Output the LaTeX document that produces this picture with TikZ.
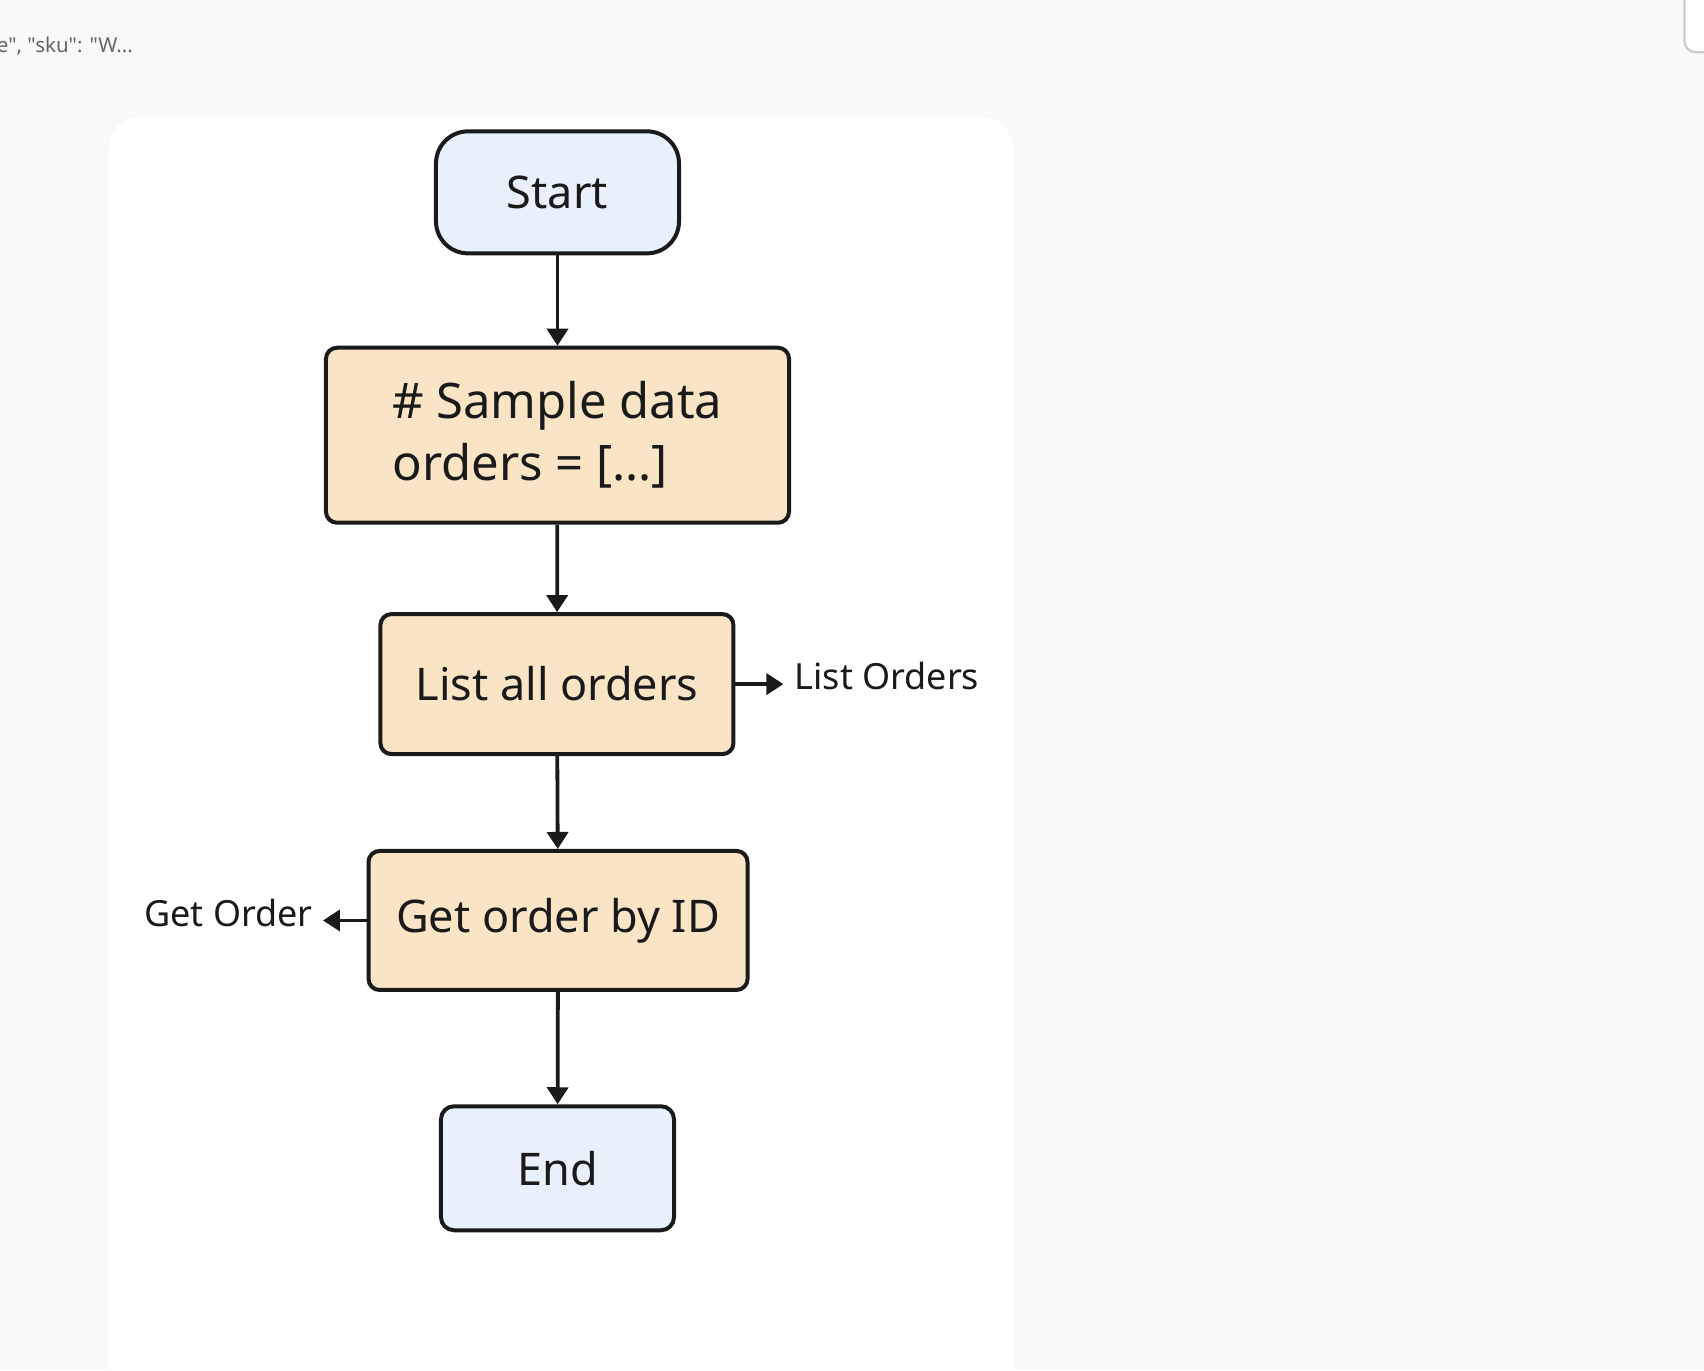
\documentclass[tikz,border=0pt]{standalone}
\usepackage{fontspec}
\setmainfont{Noto Sans}
\newfontfamily\snipfont{Noto Sans}[Ligatures=ResetAll]
\usetikzlibrary{arrows.meta}
\definecolor{pagebg}{HTML}{F9F9F9}
\definecolor{bluefill}{HTML}{E8F0FC}
\definecolor{wheatfill}{HTML}{F9E5C6}
\definecolor{ink}{HTML}{1A1A1A}
\definecolor{graytext}{HTML}{666666}
\definecolor{grayline}{HTML}{CCCCCC}
\begin{document}
\begin{tikzpicture}[x=1.0867pt,y=-1.0867pt,
  boxbase/.style={draw=ink,line width=4pt,inner sep=0pt,text=ink,font=\fontsize{45}{62}\selectfont},
  termbox/.style={boxbase,fill=bluefill,rounded corners=32pt},
  procbox/.style={boxbase,fill=wheatfill,rounded corners=11pt},
  sidelabel/.style={inner sep=0pt,text=ink,font=\fontsize{36}{42}\selectfont},
  flow/.style={draw=ink,line width=3.8pt,-{Triangle[length=17pt,width=21pt]}}]
\useasboundingbox (0,0) rectangle (1568,1261);
\fill[pagebg] (0,0) rectangle (1568,1261);
\begin{scope}
\clip (0,0) rectangle (1568,1261);
\fill[white,rounded corners=32pt] (100,107) rectangle (932,1330);
\draw[grayline,line width=2.2pt,rounded corners=11pt,fill=white] (1550,-40) rectangle (1620,48);
\end{scope}
\node[anchor=west,inner sep=0pt,text=graytext,font=\snipfont\fontsize{20.5}{24}\selectfont] (snip) at (-3,42) {e", "sku": "W...};
% nodes
\node[termbox,minimum width=243pt,minimum height=122pt] (start) at (513,177) {Start};
\node[procbox,minimum width=463pt,minimum height=175pt,align=flush left,text width=330pt,font=\fontsize{49}{62}\selectfont] (sample) at (513,400.5) {\# Sample data\\orders = [...]};
\node[procbox,minimum width=353pt,minimum height=140pt] (list) at (512.5,629.5) {List all orders};
\node[procbox,minimum width=379pt,minimum height=139pt] (getid) at (513.5,847) {Get order by ID};
\node[termbox,rounded corners=13pt,minimum width=233pt,minimum height=124pt] (end) at (513,1075) {End};
\node[sidelabel,anchor=west] (lo) at (731,622) {List Orders};
\node[sidelabel,anchor=east] (go) at (288,840) {Get Order};
% connectors
\draw[flow] (start) -- (sample);
\draw[flow] (sample) -- (list);
\draw[flow] (list) -- (getid);
\draw[flow] (getid) -- (end);
\draw[flow,shorten >=11pt] (list.east) -- (list.east -| lo.west);
\draw[flow,shorten >=10pt] (getid.west) -- (getid.west -| go.east);
\end{tikzpicture}
\end{document}
